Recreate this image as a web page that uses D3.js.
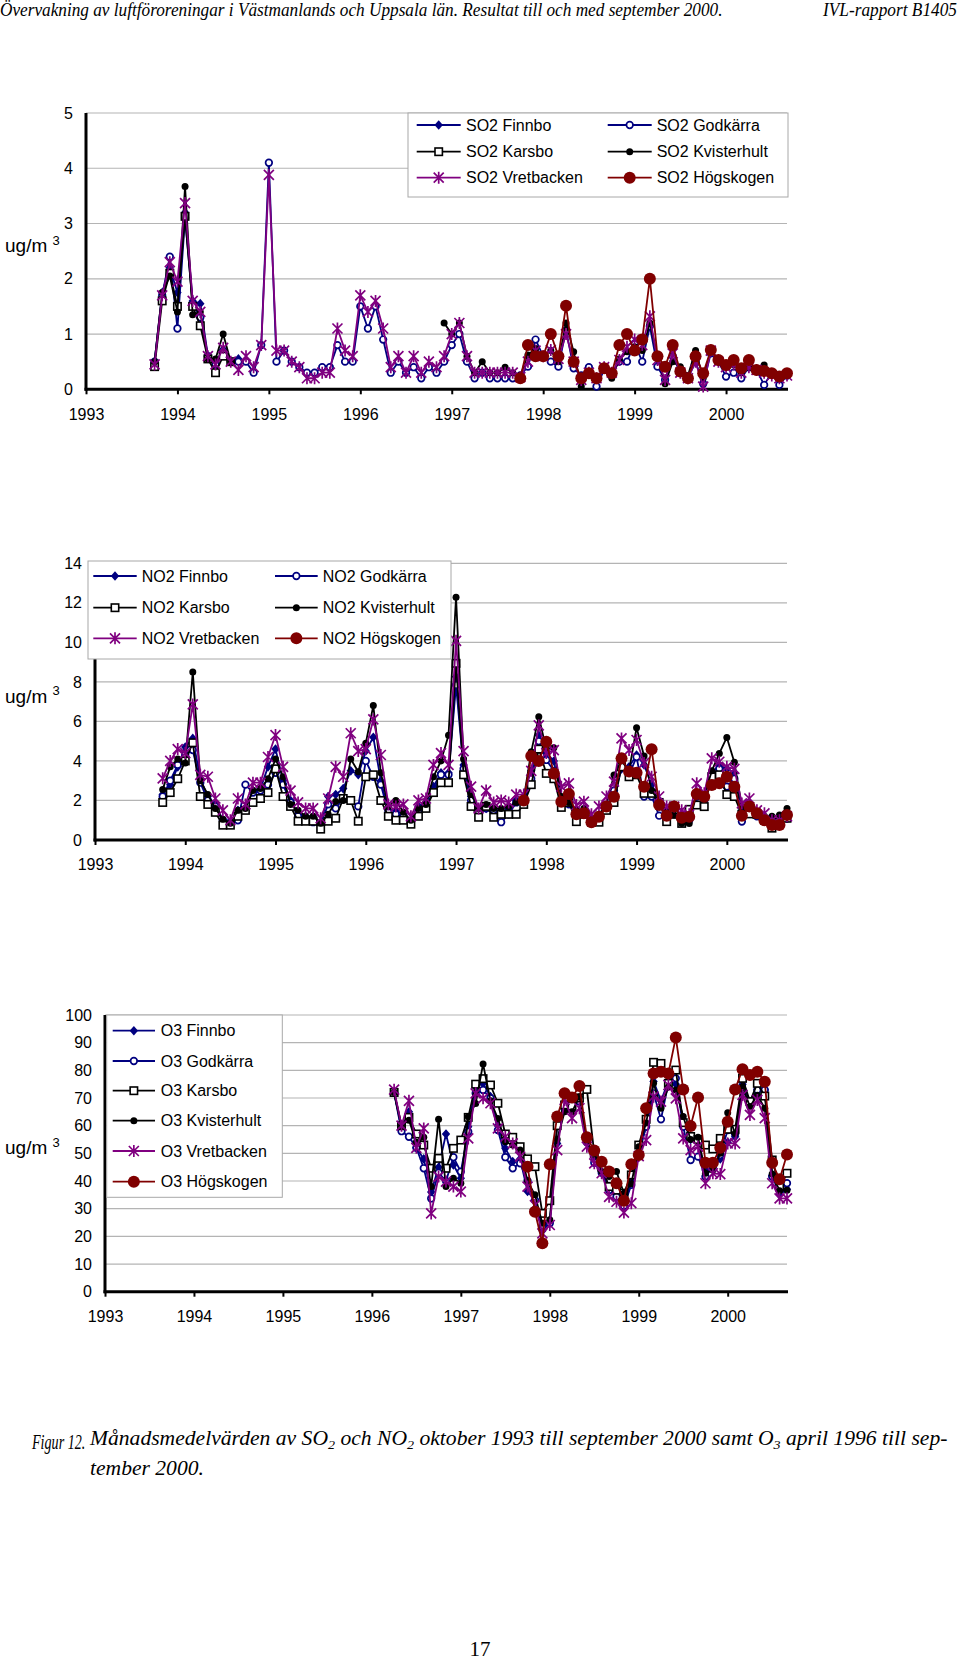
<!DOCTYPE html>
<html><head><meta charset="utf-8">
<script src="https://cdn.jsdelivr.net/npm/d3@7"></script>
<style>body{margin:0;background:#fff} svg{display:block}</style>
</head><body><svg id="c" width="960" height="1660"></svg>
<script>
const gap = n => Array(n).fill(null);
const yearTicks = [1993,1994,1995,1996,1997,1998,1999,2000];
const unitLabel = "ug/m";
const unitSup = "3";
// SO2 / NO2: monthly values Oct 1993 .. Sep 2000 (84 months)
const so2Finnbo = [0.5,1.75,2.2,1.75,3.2,1.6,1.55,0.6,0.5,0.7,0.5,0.55].concat(gap(72));
const so2Godkarra = [0.5,1.7,2.4,1.1,3.1,1.55,1.3,0.6,0.45,0.7,0.5,0.5,
  0.5,0.3,0.8,4.1,0.5,0.7,0.5,0.4,0.3,0.3,0.4,0.4,
  0.8,0.5,0.5,1.5,1.1,1.5,0.9,0.3,0.5,0.3,0.4,0.2,
  0.4,0.3,0.5,0.8,1.0,0.5,0.2,0.3,0.2,0.2,0.2,0.2,
  0.25,0.41,0.9,0.6,0.5,0.41,1.07,0.38,0.25,0.4,0.05,0.35,
  0.3,0.5,0.5,0.83,0.5,1.14,0.41,0.17,0.6,0.3,0.2,0.5,
  0.1,0.65,0.5,0.23,0.3,0.2,0.4,0.35,0.08,0.3,0.08,0.25];
const so2Karsbo = [0.41,1.6,2.1,1.5,3.13,1.5,1.15,0.55,0.3,0.6,0.5].concat(gap(73));
const so2Kvisterhult = [0.5,1.75,2.05,1.4,3.67,1.35,1.4,0.55,0.55,1.0,0.5].concat(gap(27),
  [1.2,1.0,1.2,0.6,0.3,0.5,0.3,0.3,0.4,0.3,
  0.25,0.62,0.74,0.6,0.7,0.5,1.2,0.68,0.05,0.3,0.2,0.35,
  0.2,0.55,0.68,0.77,0.7,1.2,0.6,0.1,0.5,0.41,0.25,0.7,
  0.2,0.7,0.5,0.4,0.45,0.3,0.4,0.35,0.44,0.3,0.25,0.25]);
const so2Vretbacken = [0.45,1.7,2.3,1.95,3.37,1.6,1.4,0.6,0.45,0.75,0.5,0.35,
  0.6,0.4,0.8,3.88,0.7,0.7,0.5,0.4,0.2,0.2,0.3,0.3,
  1.1,0.7,0.6,1.7,1.4,1.6,1.1,0.4,0.6,0.3,0.6,0.3,
  0.5,0.4,0.6,1.0,1.2,0.6,0.3,0.3,0.3,0.3,0.3,0.3,
  0.22,0.5,0.7,0.6,0.71,0.55,1.0,0.5,0.17,0.3,0.2,0.4,
  0.3,0.53,0.77,0.9,0.8,1.32,0.53,0.17,0.65,0.3,0.2,0.5,
  0.05,0.7,0.5,0.4,0.45,0.3,0.4,0.35,0.3,0.25,0.2,0.25];
const so2Hogskogen = gap(48).concat([0.2,0.8,0.6,0.6,1.0,0.6,1.51,0.5,0.2,0.29,0.2,0.38,
  0.29,0.8,1.0,0.7,0.9,2.0,0.6,0.41,0.8,0.32,0.2,0.6,
  0.29,0.71,0.53,0.44,0.53,0.38,0.53,0.35,0.33,0.29,0.23,0.29]);

const no2Finnbo = [2.3,2.8,3.7,4.7,5.14,3.1,2.2,1.8,1.0,0.9,1.5,1.6,
  2.5,2.6,3.7,4.6,3.0,2.0,1.3,1.2,1.2,0.9,2.2,2.3,
  2.6,3.5,3.3,4.5,5.2,3.0,1.5,1.5,1.3,1.0,1.7,1.9,
  2.7,3.4,3.4,8.26,3.8,2.2,1.5,1.6,1.6,1.4,1.6,2.0,
  1.9,3.5,5.3,4.4,4.0,2.1,1.9,1.4,1.5,1.0,1.2,1.6,
  2.2,3.6,3.7,4.3,3.8,2.8,2.0,1.3,1.4,1.0,1.1,2.2,
  2.0,3.4,3.8,3.6,3.4,1.5,1.6,1.3,1.1,0.9,1.0,1.1];
const no2Godkarra = [2.2,3.0,3.8,4.3,4.55,2.9,2.0,1.7,1.0,0.9,1.0,2.8,
  2.4,2.5,2.8,3.4,2.8,1.9,1.2,1.1,0.9,0.8,1.8,1.6,
  2.1,2.0,1.7,4.0,3.2,2.8,1.4,1.3,1.2,0.9,1.5,1.7,
  2.5,3.3,3.3,7.84,3.6,2.0,1.4,1.6,1.5,0.9,1.3,1.9,
  1.9,3.1,5.0,4.05,3.5,2.0,1.8,1.3,1.4,1.0,1.1,1.6,
  2.5,3.9,3.3,4.2,2.2,2.2,1.23,1.3,1.4,1.1,1.0,2.2,
  2.0,3.3,3.6,2.7,3.1,0.93,1.5,1.2,1.1,0.9,1.0,1.1];
const no2Karsbo = [1.9,2.4,3.1,4.0,4.92,2.2,1.8,1.4,0.75,0.75,1.2,1.5,
  1.9,2.1,2.4,3.6,2.2,1.7,0.95,0.95,0.95,0.55,0.95,1.1,
  2.1,2.0,0.95,3.2,3.3,2.0,1.2,1.0,1.0,0.8,1.2,1.6,
  2.4,2.9,2.9,8.94,3.3,1.7,1.15,1.7,1.15,1.3,1.3,1.3,
  1.8,2.8,4.6,3.37,3.1,1.65,1.9,0.93,1.3,0.9,0.9,1.5,
  1.9,3.7,3.2,3.3,2.36,2.36,1.9,0.93,1.3,0.84,1.55,1.77,
  1.69,3.2,3.3,2.3,2.2,1.3,1.32,1.3,1.0,0.6,0.9,1.1];
const no2Kvisterhult = [2.56,3.7,4.1,3.9,8.5,3.0,2.3,1.6,1.05,0.85,1.5,1.6,
  2.5,2.6,3.1,4.1,3.2,1.8,1.5,1.2,1.2,0.85,1.3,1.95,
  2.0,4.1,3.45,4.9,6.8,3.4,1.7,2.0,1.4,1.0,1.6,1.8,
  3.2,4.0,5.3,12.28,4.1,2.3,1.6,1.8,1.6,1.6,1.7,1.9,
  2.1,4.47,6.24,4.6,4.67,2.2,1.9,1.5,1.6,1.1,1.3,1.8,
  3.29,4.0,3.5,5.68,4.25,2.5,1.94,1.5,1.26,0.84,0.84,2.36,
  2.2,3.5,4.38,5.19,3.93,1.7,1.6,1.4,1.2,1.2,1.26,1.6];
const no2Vretbacken = [3.12,4.0,4.6,4.4,6.86,3.3,3.2,2.1,1.5,1.0,2.1,1.8,
  2.9,2.9,4.2,5.31,3.7,2.5,1.9,1.6,1.6,1.1,2.1,3.7,
  3.2,5.4,4.5,4.6,6.1,4.3,1.8,1.7,1.8,1.2,2.0,2.1,
  3.8,4.4,3.8,10.08,4.5,2.7,1.6,2.5,1.9,2.0,1.9,2.3,
  2.3,3.5,5.8,4.4,4.55,2.7,2.87,1.77,1.94,1.3,1.7,2.2,
  2.95,5.14,4.55,5.06,3.9,3.2,2.2,1.7,1.69,1.5,1.3,2.87,
  2.36,4.13,3.96,3.7,3.6,1.85,2.1,1.5,1.35,1.0,1.0,1.2];
const no2Hogskogen = gap(48).concat([2.0,4.25,4.0,4.97,3.37,1.94,2.33,1.3,1.35,0.9,1.18,1.69,
  2.19,4.13,3.46,3.4,2.7,4.59,1.77,1.23,1.69,1.13,1.18,2.33,
  2.19,2.78,2.87,3.2,2.7,1.23,1.69,1.35,1.0,0.76,0.76,1.26]);

// O3: monthly values Apr 1996 .. Sep 2000 (54 months)
const o3Finnbo = [72,59,65,52,48,36,45,57,45.8,41,59.6,74,
  75.3,70.5,60,51.8,47,48,36.2,33,22,25,53.6,68,
  66,70,54,48,44,38,35,31,40,50,60,76,
  69,76,75,62,55,54,44,45,48,54,56,75,
  68.7,73,73,42,35,37];
const o3Godkarra = [72,58,56,52,44.6,33.7,43,40,48.6,43.4,57.8,71.7,
  72.9,69.9,58.4,48.6,44.6,46.4,40,33.1,23.5,24.7,60.2,66,
  66,68.7,54,46.6,43,36.7,34.3,31,38.6,50,59.6,71.7,
  62.3,75.5,77.1,59.6,47.6,48.8,41.6,45.2,49.4,58.4,57,72.9,
  68.1,72.9,72.9,41.6,36.7,39.2];
const o3Karsbo = [72,60,63,57,53,44.6,48.2,44.6,51.8,54.8,63,75,
  77,74.7,68.1,57,55.8,52.4,48,45.2,28.3,32.9,60,67.5,
  67.1,70,73.1,50,45,38,36.7,35.6,42.2,53,62.3,82.9,
  82.5,75.3,80.1,61.1,56.1,55,53,51.6,55.4,58.7,58.7,77.1,
  68.7,75.3,70.7,47.6,38,42.8];
const o3Kvisterhult = [72,60,62,54,55.8,38,62.3,38,41,39.2,63.2,68,
  82.3,69,62.6,54.2,53,51.2,40,35,24.7,26,55,65,
  65,70.5,54,50,43.4,41.6,43.4,35.6,39,52.4,61,75.3,
  66.3,74,72.9,63.3,55,55.8,42.8,44,50,64.7,57.2,74,
  66.9,71,66.3,42.5,36.5,36.7];
const o3Vretbacken = [73,60,69,52,59,28.3,41.6,39.8,38,36.2,55.4,71.7,
  69.9,68.1,59,56,53.6,48.8,38,31.3,21.1,24.1,51.2,69.3,
  62.7,66.3,52.4,46.4,42.8,34.3,32.5,28.6,32,49,54.8,70.5,
  68.7,74.7,69.9,55.4,51.2,52.4,39.2,42.8,42.5,53.6,53.6,71.1,
  63.9,69.3,62.7,39.2,33.7,33.7];
const o3Hogskogen = gap(18).concat([45.2,28.9,17.5,46.1,63.3,71.7,70.2,74.3,55.8,51,47,43.4,
  39.2,32.9,46.1,49.4,66.3,78.9,79.5,78.9,91.9,73.1,59.9,70.2,
  46.6,46.6,52,61.4,73.1,80.4,78.3,79.5,75.9,46.6,40.6,49.6]);

const stations = ["Finnbo","Godkärra","Karsbo","Kvisterhult","Vretbacken","Högskogen"];
const stationColor = ["#000080","#000080","#000000","#000000","#800080","#800000"];
const stationMarker = ["diamond","circleOpen","squareOpen","dot","star","bigDot"];

const SANS = '"Liberation Sans", Arial, Helvetica, sans-serif';
const SERIF = '"Liberation Serif", "Times New Roman", serif';
const svg = d3.select("#c");

function marker(g, type, color, cx, cy) {
  if (type === "diamond") g.append("path").attr("d", `M${cx},${cy-4.8}L${cx+4.2},${cy}L${cx},${cy+4.8}L${cx-4.2},${cy}Z`).attr("fill", color);
  else if (type === "circleOpen") g.append("circle").attr("cx", cx).attr("cy", cy).attr("r", 3.3).attr("fill", "#fff").attr("stroke", color).attr("stroke-width", 1.7);
  else if (type === "squareOpen") g.append("rect").attr("x", cx-3.7).attr("y", cy-3.7).attr("width", 7.4).attr("height", 7.4).attr("fill", "#fff").attr("stroke", color).attr("stroke-width", 1.6);
  else if (type === "dot") g.append("circle").attr("cx", cx).attr("cy", cy).attr("r", 3.5).attr("fill", color);
  else if (type === "star") g.append("path").attr("d", `M${cx-5},${cy-5}L${cx+5},${cy+5}M${cx-5},${cy+5}L${cx+5},${cy-5}M${cx},${cy-6}L${cx},${cy+6}`).attr("stroke", color).attr("stroke-width", 1.7).attr("fill", "none");
  else if (type === "bigDot") g.append("circle").attr("cx", cx).attr("cy", cy).attr("r", 6).attr("fill", color);
}

function panel(cfg) {
  const g = svg.append("g");
  const x = d3.scaleLinear().domain([1993, 2000 + 8/12]).range([cfg.left, cfg.right]);
  const y = d3.scaleLinear().domain([0, cfg.ymax]).range([cfg.bottom, cfg.top]);
  g.append("g").selectAll("line").data(cfg.yticks.filter(v => v > 0)).join("line")
    .attr("x1", cfg.left).attr("x2", cfg.right).attr("y1", d => y(d)).attr("y2", d => y(d))
    .attr("stroke", "#b4b4b4").attr("stroke-width", 1.2);
  const ya = g.append("g").attr("transform", `translate(${cfg.left},0)`)
    .call(d3.axisLeft(y).tickValues(cfg.yticks).tickSize(0).tickPadding(13).tickFormat(d3.format("d")));
  ya.select(".domain").remove();
  ya.selectAll("text").attr("font-size", 16).attr("font-family", SANS).attr("fill", "#000");
  const xa = g.append("g").attr("transform", `translate(0,${cfg.bottom})`)
    .call(d3.axisBottom(x).tickValues(yearTicks).tickSize(5).tickPadding(14).tickFormat(d3.format("d")));
  xa.select(".domain").remove();
  xa.selectAll("line").attr("stroke", "#000").attr("stroke-width", 2);
  xa.selectAll("text").attr("font-size", 16).attr("font-family", SANS).attr("fill", "#000");
  g.append("line").attr("x1", cfg.left).attr("x2", cfg.left).attr("y1", cfg.top).attr("y2", cfg.bottom + 1.5)
    .attr("stroke", "#000").attr("stroke-width", 3);
  g.append("line").attr("x1", cfg.left - 1.5).attr("x2", cfg.right + 1).attr("y1", cfg.bottom).attr("y2", cfg.bottom)
    .attr("stroke", "#000").attr("stroke-width", 3);
  const ut = g.append("text").attr("x", 5).attr("y", (cfg.top + cfg.bottom) / 2 + 1)
    .attr("font-family", SANS).attr("font-size", 19);
  ut.append("tspan").text(unitLabel + " ");
  ut.append("tspan").attr("font-size", 13).attr("dy", -7.5).text(unitSup);
  const line = d3.line().defined(d => d.v != null).x(d => x(d.t)).y(d => y(d.v));
  cfg.series.forEach((vals, k) => {
    const pts = vals.map((v, i) => ({t: cfg.t0 + i / 12, v}));
    const sg = g.append("g");
    sg.append("path").datum(pts).attr("d", line).attr("fill", "none")
      .attr("stroke", stationColor[k]).attr("stroke-width", 1.8).attr("stroke-linejoin", "round");
    pts.filter(d => d.v != null).forEach(d => marker(sg, stationMarker[k], stationColor[k], x(d.t), y(d.v)));
  });
  const L = cfg.legend;
  const lg = g.append("g");
  lg.append("rect").attr("x", L.box[0]).attr("y", L.box[1]).attr("width", L.box[2] - L.box[0]).attr("height", L.box[3] - L.box[1])
    .attr("fill", "#fff").attr("stroke", "#a8a8a8").attr("stroke-width", 1);
  L.order.forEach((k, j) => {
    const col = L.cols[Math.floor(j / L.rows.length)];
    const ry = L.rows[j % L.rows.length];
    lg.append("line").attr("x1", col[0]).attr("x2", col[1]).attr("y1", ry).attr("y2", ry)
      .attr("stroke", stationColor[k]).attr("stroke-width", 1.8);
    marker(lg, stationMarker[k], stationColor[k], (col[0] + col[1]) / 2, ry);
    lg.append("text").attr("x", col[2]).attr("y", ry).attr("dy", "0.36em")
      .attr("font-family", SANS).attr("font-size", 16).text(cfg.prefix + " " + stations[k]);
  });
}

panel({left: 86, right: 787, top: 113, bottom: 389.3, ymax: 5, yticks: d3.range(0, 6, 1), t0: 1993.75, prefix: "SO2",
  series: [so2Finnbo, so2Godkarra, so2Karsbo, so2Kvisterhult, so2Vretbacken, so2Hogskogen],
  legend: {box: [408, 113, 788, 197], cols: [[416.7, 460.7, 466], [607.7, 651.7, 656.7]], rows: [125, 151.7, 177.7], order: [0, 2, 4, 1, 3, 5]}});
panel({left: 95, right: 787, top: 563.3, bottom: 840, ymax: 14, yticks: d3.range(0, 15, 2), t0: 1993.75, prefix: "NO2",
  series: [no2Finnbo, no2Godkarra, no2Karsbo, no2Kvisterhult, no2Vretbacken, no2Hogskogen],
  legend: {box: [88, 561, 451, 659], cols: [[93.3, 136.7, 141.7], [275, 317.7, 322.7]], rows: [576, 607.7, 638.3], order: [0, 2, 4, 1, 3, 5]}});
panel({left: 105, right: 787, top: 1015, bottom: 1291.7, ymax: 100, yticks: d3.range(0, 101, 10), t0: 1996.25, prefix: "O3",
  series: [o3Finnbo, o3Godkarra, o3Karsbo, o3Kvisterhult, o3Vretbacken, o3Hogskogen],
  legend: {box: [106.7, 1015, 282.3, 1197.3], cols: [[112.7, 155, 160.7]], rows: [1030.7, 1061, 1090.7, 1120.7, 1151, 1181.7], order: [0, 1, 2, 3, 4, 5]}});

function fit(sel, x0, width) {
  const w = sel.node().getBBox().width;
  sel.attr("transform", `translate(${x0},0) scale(${width / w},1) translate(${-x0},0)`);
}
const h1 = svg.append("text").attr("x", 0).attr("y", 16).attr("font-family", SERIF).attr("font-style", "italic").attr("font-size", 18)
  .text("Övervakning av luftföroreningar i Västmanlands och Uppsala län. Resultat till och med september 2000.");
fit(h1, 0, 723);
const h2 = svg.append("text").attr("x", 823).attr("y", 16).attr("font-family", SERIF).attr("font-style", "italic").attr("font-size", 18)
  .text("IVL-rapport B1405");
fit(h2, 823, 135);

const c0 = svg.append("text").attr("x", 32).attr("y", 1449).attr("font-family", SERIF).attr("font-style", "italic").attr("font-size", 20).text("Figur 12.");
fit(c0, 32, 54);
const c1 = svg.append("text").attr("x", 90).attr("y", 1449).attr("font-family", SERIF).attr("font-style", "italic").attr("font-size", 20);
[["Månadsmedelvärden av SO", 0], ["2", 1], [" och NO", 0], ["2", 1], [" oktober 1993 till september 2000 samt O", 0], ["3", 1], [" april 1996 till sep-", 0]]
  .forEach(([s, sub]) => {
    if (sub) c1.append("tspan").attr("font-size", 13).attr("dy", 4).text(s);
    else c1.append("tspan").attr("dy", c1.selectAll("tspan").size() ? -4 : 0).text(s);
  });
fit(c1, 90, 859);
const c2 = svg.append("text").attr("x", 90).attr("y", 1475).attr("font-family", SERIF).attr("font-style", "italic").attr("font-size", 20).text("tember 2000.");
fit(c2, 90, 114);
svg.append("text").attr("x", 480).attr("y", 1656).attr("text-anchor", "middle").attr("font-family", SERIF).attr("font-size", 21).text("17");
</script></body></html>
